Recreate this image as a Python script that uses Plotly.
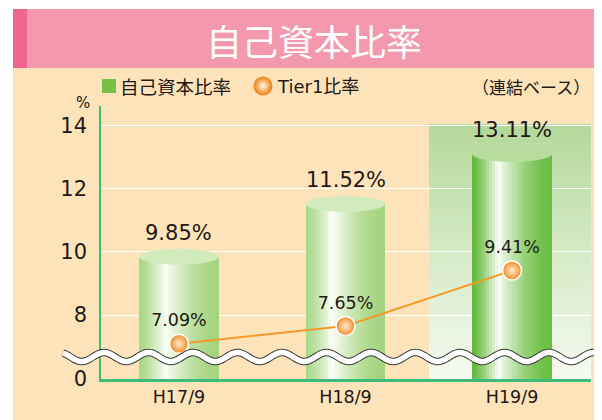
import math
import plotly.graph_objects as go

# ---------------- data ----------------
categories = ["H17/9", "H18/9", "H19/9"]
equity_ratio = [9.85, 11.52, 13.11]      # 自己資本比率 (%)
tier1_ratio = [7.09, 7.65, 9.41]         # Tier1比率 (%)
ytick_vals = [5.97, 8, 10, 12, 14]       # 5.97 = axis break drawn as "0"
ytick_text = ["0", "8", "10", "12", "14"]
y_range = [5.97, 14.63]

# ---------------- layout helpers (screen coordinates) ----------------
PAGE_MARGIN = 8            # default body margin of the html page
SW, SH = 602, 420          # browser window
L, R, T, B = 101, 591, 106, 379   # plot area on screen
W, H = SW - PAGE_MARGIN, SH - PAGE_MARGIN


def px(x):
    return (x - L) / (R - L)


def py(y):
    return (B - y) / (B - T)


def hex2rgb(c):
    c = c.lstrip("#")
    return [int(c[i:i + 2], 16) for i in (0, 2, 4)]


def mix(c1, c2, f):
    a, b = hex2rgb(c1), hex2rgb(c2)
    return "rgb(%d,%d,%d)" % tuple(round(a[i] + (b[i] - a[i]) * f) for i in range(3))


INK = "#231815"
FONT = "DejaVu Sans, Noto Sans CJK JP, sans-serif"
CJK = "Noto Sans CJK JP, DejaVu Sans, sans-serif"

fig = go.Figure()

# ---------------- cylinders (overlaid bar stripes -> horizontal gradient) ----------------
bar_w = 0.48
N = 28
edge_l = ["#A6D685", "#A6D685", "#62B83A"]
edge_r = ["#A3D47E", "#A3D47E", "#6ABD42"]
shine = "#FBFEF6"
h = 0.33
for k in range(N):
    t = (k + 0.5) / N
    cols = []
    for j in range(len(categories)):
        if t < h:
            s = (t / h) ** 1.3
            cols.append(mix(edge_l[j], shine, s))
        else:
            s = ((1 - t) / (1 - h)) ** 1.7
            cols.append(mix(edge_r[j], shine, s))
    fig.add_trace(go.Bar(
        x=categories, y=equity_ratio,
        width=bar_w - k * bar_w / N,
        offset=-bar_w / 2 + k * bar_w / N,
        marker=dict(color=cols, line=dict(width=0)),
        showlegend=False, hoverinfo="skip",
        name="自己資本比率",
    ))

# ---------------- Tier1 line ----------------
fig.add_trace(go.Scatter(
    x=categories, y=tier1_ratio,
    mode="lines+markers+text",
    line=dict(color="#F39A2B", width=2),
    marker=dict(size=19, color="#F08A22",
                gradient=dict(type="radial", color="#FFEBD3"),
                line=dict(color="white", width=1.5)),
    text=["%.2f%%" % v for v in tier1_ratio],
    textposition="top center",
    textfont=dict(family=FONT, size=17.5, color=INK),
    showlegend=False, name="Tier1比率",
))

shapes = []
# peach background and banner
shapes.append(dict(type="rect", xref="paper", yref="paper", layer="below",
                   x0=px(13), x1=px(603), y0=py(68), y1=py(421),
                   fillcolor="#FDE3BA", line=dict(width=0)))
shapes.append(dict(type="rect", xref="paper", yref="paper", layer="below",
                   x0=px(13), x1=px(603), y0=py(9), y1=py(68),
                   fillcolor="#F498AE", line=dict(width=0)))
shapes.append(dict(type="rect", xref="paper", yref="paper", layer="below",
                   x0=px(13), x1=px(27), y0=py(9), y1=py(68),
                   fillcolor="#EF6491", line=dict(width=0)))
shapes.append(dict(type="rect", xref="paper", yref="paper", layer="below",
                   x0=px(598), x1=px(603), y0=py(9), y1=py(68),
                   fillcolor="#EF6491", line=dict(width=0)))

# highlight panel behind H19/9 (vertical gradient via strips)
hx0, hx1, hy0, hy1 = 429, 591, 124, 379
M = 40
for k in range(M):
    ya = hy0 + (hy1 - hy0) * k / M
    yb = hy0 + (hy1 - hy0) * (k + 1) / M + 0.6
    shapes.append(dict(type="rect", xref="paper", yref="paper", layer="below",
                       x0=px(hx0), x1=px(hx1), y0=py(yb), y1=py(ya),
                       fillcolor=mix("#B3D99A", "#F6FAF1", (k + 0.5) / M),
                       line=dict(width=0)))

# cylinder tops
top_cols = ["#D2EBBD", "#D2EBBD", "#B8DC9D"]
for j, v in enumerate(equity_ratio):
    shapes.append(dict(type="circle", xref="x", yref="y",
                       x0=j - bar_w / 2, x1=j + bar_w / 2, y0=v - 0.25, y1=v + 0.25,
                       fillcolor=top_cols[j], line=dict(width=0)))

# axis-break wave
pts = []
xw = 63
while xw <= 604:
    yw = 357 - 4.5 * math.cos(2 * math.pi * (xw - 104) / 44.5)
    pts.append("%.5f,%.5f" % (px(xw), py(yw)))
    xw += 1.5
path = "M" + " L".join(pts)
shapes.append(dict(type="path", xref="paper", yref="paper", path=path,
                   line=dict(color="#3A3A3A", width=7.5)))
shapes.append(dict(type="path", xref="paper", yref="paper", path=path,
                   line=dict(color="white", width=5.5)))

# legend symbols
shapes.append(dict(type="rect", xref="paper", yref="paper",
                   x0=px(102), x1=px(116), y0=py(93), y1=py(79),
                   fillcolor="#76C043", line=dict(width=0)))
cx, cy = 263, 86
rings = [(9.5, "#F0861E"), (8, "#F39A3F"), (6.5, "#F6AE60"), (5, "#F9C282"),
         (3.5, "#FCD6A8"), (2, "#FFE9CF")]
for r, c in rings:
    shapes.append(dict(type="circle", xref="paper", yref="paper",
                       x0=px(cx - r), x1=px(cx + r), y0=py(cy + r), y1=py(cy - r),
                       fillcolor=c, line=dict(width=0)))

annotations = []
annotations.append(dict(text="自己資本比率", xref="paper", yref="paper",
                        x=px(314), y=py(40), xanchor="center", yanchor="middle",
                        showarrow=False, font=dict(family=CJK, size=36, color="white")))
annotations.append(dict(text="自己資本比率", xref="paper", yref="paper",
                        x=px(118), y=py(86), xanchor="left", yanchor="middle",
                        showarrow=False, font=dict(family=CJK, size=18.5, color=INK)))
annotations.append(dict(text="Tier1比率", xref="paper", yref="paper",
                        x=px(275), y=py(86), xanchor="left", yanchor="middle",
                        showarrow=False, font=dict(family=FONT, size=18, color=INK)))
annotations.append(dict(text="（連結ベース）", xref="paper", yref="paper",
                        x=px(592), y=py(86), xanchor="right", yanchor="middle",
                        showarrow=False, font=dict(family=CJK, size=17, color=INK)))
annotations.append(dict(text="%", xref="paper", yref="paper",
                        x=px(83), y=py(103), xanchor="center", yanchor="middle",
                        showarrow=False, font=dict(family=FONT, size=15, color=INK)))
for c, v in zip(categories, equity_ratio):
    annotations.append(dict(text="%.2f%%" % v, xref="x", yref="y", x=c, y=v,
                            yshift=24, xanchor="center", yanchor="middle",
                            showarrow=False, font=dict(family=FONT, size=21, color=INK)))

fig.update_layout(
    width=W, height=H, autosize=False,
    margin=dict(l=L - PAGE_MARGIN, r=SW - R, t=T - PAGE_MARGIN, b=SH - B, pad=0,
                autoexpand=False),
    paper_bgcolor="white", plot_bgcolor="rgba(0,0,0,0)",
    barmode="overlay", bargap=0,
    showlegend=False,
    shapes=shapes, annotations=annotations,
    xaxis=dict(type="category", range=[-0.468, 2.474], automargin=False,
               showline=True, linecolor="#3DBB7A", linewidth=3,
               showgrid=False, zeroline=False,
               ticks="",
               tickfont=dict(family=FONT, size=17.5, color=INK)),
    yaxis=dict(range=y_range, tickvals=ytick_vals, ticktext=ytick_text,
               automargin=False,
               showline=True, linecolor="#3DBB7A", linewidth=1.5,
               showgrid=True, gridcolor="white", gridwidth=1,
               zeroline=False,
               ticks="outside", ticklen=8, tickcolor="rgba(0,0,0,0)",
               tickfont=dict(family=FONT, size=21, color=INK)),
)

fig.write_html("out.html")
